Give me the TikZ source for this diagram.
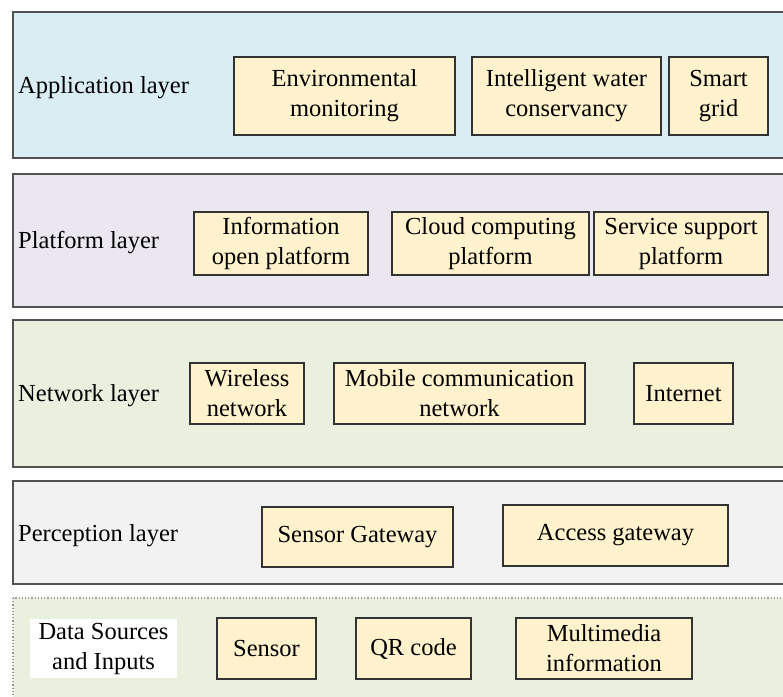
\documentclass[tikz,border=0pt]{standalone}
\usepackage{fontspec}
\setmainfont{Liberation Serif}
\begin{document}
\begin{tikzpicture}[x=1pt,y=-1pt,
  layer/.style={draw=black!68, line width=2.2pt},
  item/.style={draw=black!80, line width=1.6pt, fill=itemfill, rectangle,
    inner sep=0pt, align=center, font=\fontsize{24.5}{30}\selectfont},
  caption/.style={anchor=west, inner sep=0pt, font=\fontsize{24.5}{30}\selectfont}]
\definecolor{appfill}{HTML}{DAEDF3}
\definecolor{platfill}{HTML}{EAE7F0}
\definecolor{netfill}{HTML}{E9F0DE}
\definecolor{percfill}{HTML}{F2F2F2}
\definecolor{itemfill}{HTML}{FFF2CC}
\useasboundingbox (0,0) rectangle (783,696);

% layer bands
\draw[layer, fill=appfill]  (13,12)  rectangle (786,158);
\draw[layer, fill=platfill] (13,174) rectangle (786,307);
\draw[layer, fill=netfill]  (13,320) rectangle (786,467);
\draw[layer, fill=percfill] (13,481) rectangle (786,584);
\draw[draw=black!40, line width=1.2pt, dotted, fill=netfill] (13,598) rectangle (786,702);

% application layer
\node[caption] (appl) at (18,88) {Application layer};
\node[item, minimum width=221, minimum height=78] (env) at (344.5,96) {Environmental\\monitoring};
\node[item, minimum width=189, minimum height=78] (water) at (566.5,96) {Intelligent water\\conservancy};
\node[item, minimum width=99, minimum height=78] (grid) at (718.5,96) {Smart\\grid};

% platform layer
\node[caption] (platl) at (18,243) {Platform layer};
\node[item, minimum width=174, minimum height=63] (info) at (281,243.5) {Information\\open platform};
\node[item, minimum width=197, minimum height=63] (cloud) at (490.5,243.5) {Cloud computing\\platform};
\node[item, minimum width=174, minimum height=63] (serv) at (681,243.5) {Service support\\platform};

% network layer
\node[caption] (netl) at (18,396) {Network layer};
\node[item, minimum width=114, minimum height=61] (wless) at (247,393.5) {Wireless\\network};
\node[item, minimum width=251, minimum height=61] (mobile) at (459.5,393.5) {Mobile communication\\network};
\node[item, minimum width=99, minimum height=61] (inet) at (683.5,393.5) {Internet};

% perception layer
\node[caption] (percl) at (18,536) {Perception layer};
\node[item, minimum width=191, minimum height=60] (sgw) at (357.5,537) {Sensor Gateway};
\node[item, minimum width=225, minimum height=61] (agw) at (615.5,535.5) {Access gateway};

% data sources and inputs
\node[fill=white, minimum width=147, minimum height=59, inner sep=0pt, align=center,
  font=\fontsize{24.5}{30}\selectfont] (dsl) at (103.5,648.5) {Data Sources\\and Inputs};
\node[item, minimum width=99, minimum height=61] (sensor) at (266.5,648.5) {Sensor};
\node[item, minimum width=115, minimum height=61] (qr) at (413.5,648.5) {QR code};
\node[item, minimum width=176, minimum height=61] (media) at (604,648.5) {Multimedia\\information};
\end{tikzpicture}
\end{document}
